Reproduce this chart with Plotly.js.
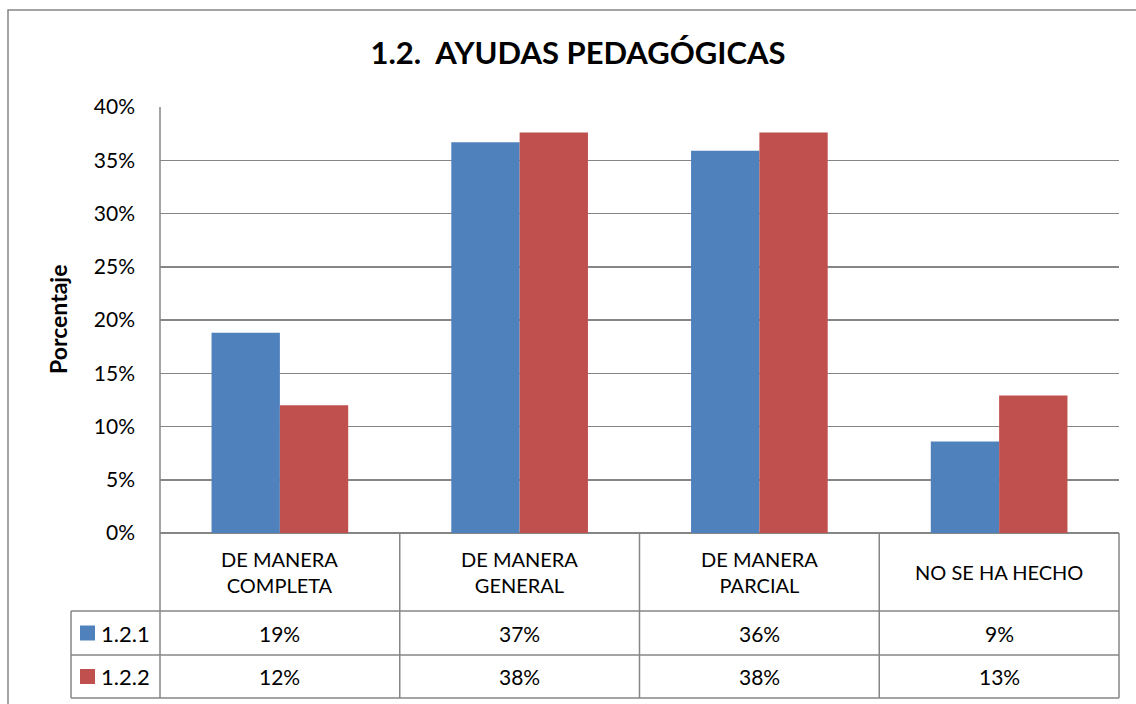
<!DOCTYPE html>
<html>
<head>
<meta charset="utf-8">
<script src="https://cdn.plot.ly/plotly-3.0.1.min.js"></script>
<style>html,body{margin:0;padding:0;background:#fff;}#chart{width:1136px;height:704px;}</style>
</head>
<body>
<div id="chart"></div>
<script>
// ---- data ----
const chartTitle = "1.2.  AYUDAS PEDAGÓGICAS";
const yTitle = "Porcentaje";
const categories = ["DE MANERA<br>COMPLETA", "DE MANERA<br>GENERAL", "DE MANERA<br>PARCIAL", "NO SE HA HECHO"];
const seriesNames = ["1.2.1", "1.2.2"];
const series121 = [18.8, 36.7, 35.9, 8.6];
const series122 = [12.0, 37.6, 37.6, 12.9];
const seriesColors = ["#4F81BD", "#C0504D"];
const yTickVals = [0, 5, 10, 15, 20, 25, 30, 35, 40];
const yTickText = ["0%", "5%", "10%", "15%", "20%", "25%", "30%", "35%", "40%"];

// ---- geometry (pixels) ----
const W = 1136, H = 704;
const plotL = 160, plotR = 1119, plotT = 107, plotB = 533;
const pw = plotR - plotL, ph = plotB - plotT;
const px = x => (x - plotL) / pw;        // pixel x -> paper
const py = y => (plotB - y) / ph;        // pixel y -> paper
const rowHeadBottom = 611, row1Bottom = 655, row2Bottom = 698, tableLeft = 71;
const font = "Lato, 'Open Sans', sans-serif";
const grid = "#868686";

const allSeries = [series121, series122];
const traces = allSeries.map((vals, i) => ({
  type: "bar", x: categories, y: vals, name: seriesNames[i],
  marker: {color: seriesColors[i], line: {width: 0}},
  hoverinfo: "skip"
}));

const shapes = [];
const annotations = [];
const line = (x0, y0, x1, y1, xref) => shapes.push({type: "line", xref: xref || "paper", yref: "paper",
  x0: x0, y0: y0, x1: x1, y1: y1, line: {color: grid, width: 1.5}});

// outer chart border
shapes.push({type: "rect", xref: "paper", yref: "paper", x0: px(8), x1: px(1145), y0: py(10), y1: py(715),
  line: {color: grid, width: 1.5}, fillcolor: "rgba(0,0,0,0)"});
// left axis line through table
line(0, py(plotT), 0, py(row2Bottom));
line(1, 0, 1, py(row2Bottom));
for (let i = 0; i < categories.length - 1; i++) line(i + 0.5, 0, i + 0.5, py(row2Bottom), "x");
// table horizontal lines
[rowHeadBottom, row1Bottom, row2Bottom].forEach(y => line(px(tableLeft), py(y), 1, py(y)));
line(px(tableLeft), py(rowHeadBottom), px(tableLeft), py(row2Bottom));

// header labels
categories.forEach((c, i) => annotations.push({xref: "x", yref: "paper", x: i, y: py((plotB + rowHeadBottom) / 2),
  text: c, showarrow: false, font: {family: font, size: 20, color: "#000"}, align: "center", yanchor: "middle"}));

// value rows
const rowCenters = [(rowHeadBottom + row1Bottom) / 2, (row1Bottom + row2Bottom) / 2];
allSeries.forEach((vals, s) => {
  vals.forEach((v, i) => annotations.push({xref: "x", yref: "paper", x: i, y: py(rowCenters[s]),
    text: Math.round(v) + "%", showarrow: false, font: {family: font, size: 21, color: "#000"}, yanchor: "middle"}));
  // legend key
  shapes.push({type: "rect", xref: "paper", yref: "paper", x0: px(80), x1: px(95),
    y0: py(rowCenters[s] - 7.5), y1: py(rowCenters[s] + 7.5), fillcolor: seriesColors[s], line: {width: 0}});
  annotations.push({xref: "paper", yref: "paper", x: px(99), y: py(rowCenters[s]), xanchor: "left", yanchor: "middle",
    text: seriesNames[s], showarrow: false, font: {family: font, size: 22, color: "#000"}});
});

// y axis title
annotations.push({xref: "paper", yref: "paper", x: px(58), y: 0.5, textangle: -90, showarrow: false,
  text: "<b>" + yTitle + "</b>", font: {family: font, size: 23, color: "#000"}, xanchor: "center", yanchor: "middle"});

const layout = {
  width: W, height: H, autosize: false,
  margin: {l: plotL, r: W - plotR, t: plotT, b: H - plotB, pad: 0},
  paper_bgcolor: "#fff", plot_bgcolor: "#fff",
  title: {text: "<b>" + chartTitle + "</b>", xref: "container", yref: "container", x: 578 / W, y: 1 - 53 / H,
    xanchor: "center", yanchor: "middle", font: {family: font, size: 31, color: "#000"}},
  showlegend: false,
  barmode: "group", bargap: 0.43, bargroupgap: 0,
  xaxis: {type: "category", showticklabels: false, ticks: "", showgrid: false, zeroline: false, showline: false,
    range: [-0.5, categories.length - 0.5], fixedrange: true},
  yaxis: {range: [0, 40], tickvals: yTickVals, ticktext: yTickText, showgrid: true, gridcolor: grid, gridwidth: 1.5,
    zeroline: true, zerolinecolor: grid, zerolinewidth: 1.5, showline: false, ticks: "", ticklabelstandoff: 24,
    tickfont: {family: font, size: 21, color: "#000"}, fixedrange: true},
  shapes: shapes, annotations: annotations
};

Plotly.newPlot("chart", traces, layout, {displayModeBar: false, staticPlot: true});
</script>
</body>
</html>
